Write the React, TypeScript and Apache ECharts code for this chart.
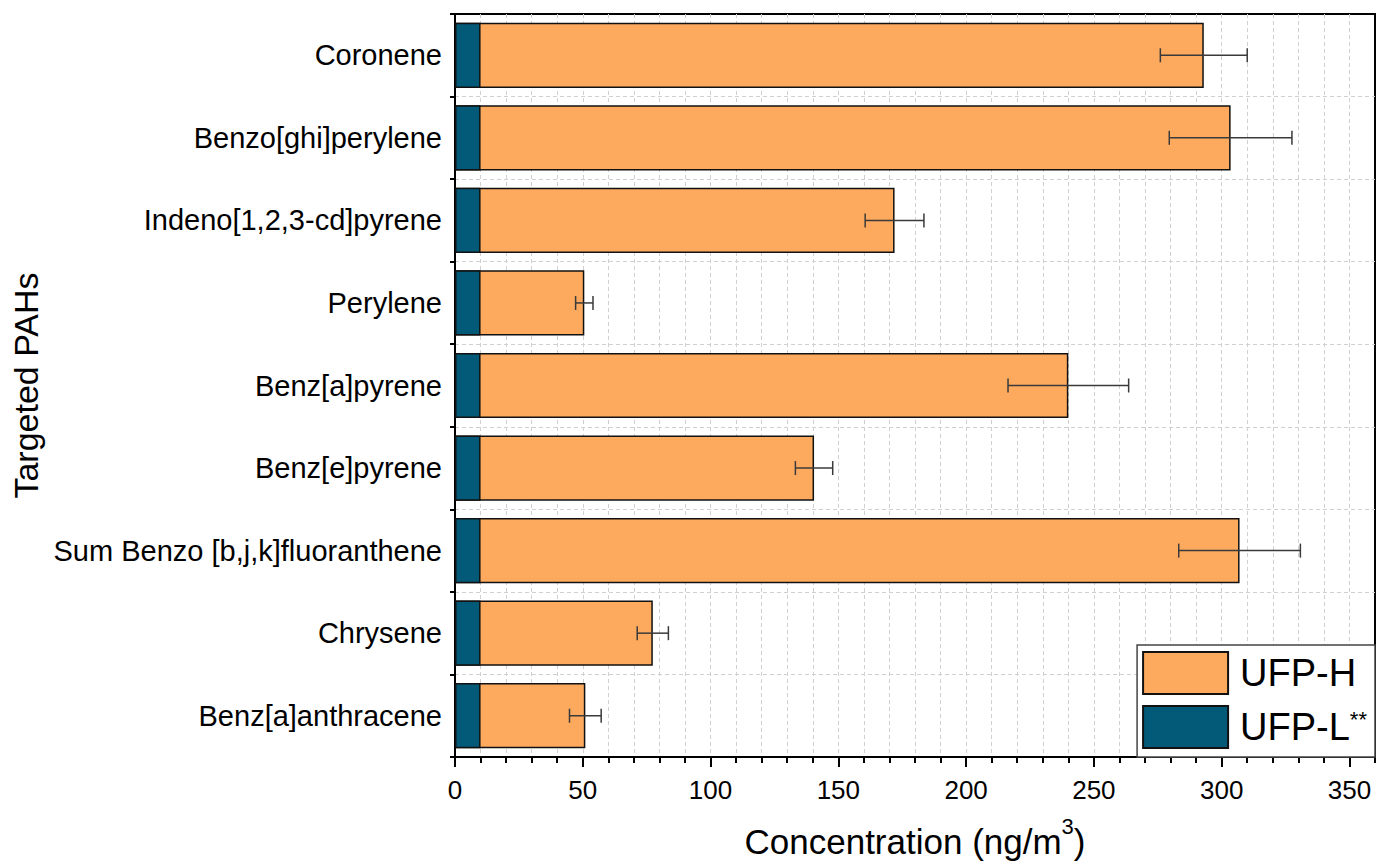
import React, { useEffect, useRef } from "react";
import * as echarts from "echarts";

// PAH species, listed top to bottom
const categories = [
  "Coronene",
  "Benzo[ghi]perylene",
  "Indeno[1,2,3-cd]pyrene",
  "Perylene",
  "Benz[a]pyrene",
  "Benz[e]pyrene",
  "Sum Benzo [b,j,k]fluoranthene",
  "Chrysene",
  "Benz[a]anthracene",
];

// Concentrations in ng/m3
const ufpH = [293, 303.5, 172, 50.6, 240, 140.5, 307, 77.4, 51];
const ufpHErr = [17, 24, 11.5, 3.4, 23.6, 7.3, 23.8, 6.1, 6.2];
const ufpL = [10, 10, 10, 10, 10, 10, 10, 10, 10];

const majorTicks = [0, 50, 100, 150, 200, 250, 300, 350];

const FONT = '"Liberation Sans", Arial, sans-serif';
const ORANGE = "#FDAA5E";
const TEAL = "#025A78";

export default function App() {
  const ref = useRef<HTMLDivElement>(null);

  useEffect(() => {
    document.body.style.margin = "0";
    const chart = echarts.init(ref.current!, null, { renderer: "svg" });

    const errData = categories.map((_, i) => [i, ufpH[i] - ufpHErr[i], ufpH[i] + ufpHErr[i]]);

    chart.setOption({
      animation: false,
      backgroundColor: "#fff",
      textStyle: { fontFamily: FONT },
      grid: {
        left: 455,
        right: 2,
        top: 14,
        bottom: 105,
        outerBoundsMode: "none",
        containLabel: false,
        show: true,
        borderColor: "#000",
        borderWidth: 2,
        backgroundColor: "transparent",
      },
      legend: {
        orient: "vertical",
        right: 2,
        bottom: 105,
        data: ["UFP-H", "UFP-L"],
        itemWidth: 85,
        itemHeight: 42,
        itemGap: 10,
        padding: [6, 8, 8, 5],
        borderColor: "#444",
        borderWidth: 1.5,
        borderRadius: 0,
        backgroundColor: "#fff",
        icon: "rect",
        formatter: (name: string) => (name === "UFP-L" ? "UFP-L{sup|**}" : name),
        textStyle: {
          fontFamily: FONT,
          fontSize: 38,
          color: "#000",
          padding: [0, 0, 0, 7],
          rich: {
            sup: { fontFamily: FONT, fontSize: 22, color: "#000", verticalAlign: "top" },
          },
        },
      },
      xAxis: [
        {
          type: "value",
          position: "bottom",
          min: 0,
          max: 360,
          interval: 10,
          name: "Concentration (ng/m{sup|3})",
          nameLocation: "middle",
          nameGap: 58,
          nameTextStyle: {
            fontFamily: FONT,
            fontSize: 35,
            lineHeight: 52,
            color: "#000",
            rich: {
              sup: {
                fontFamily: FONT,
                fontSize: 22,
                lineHeight: 22,
                color: "#000",
                verticalAlign: "top",
              },
            },
          },
          axisLine: { show: true, lineStyle: { color: "#000", width: 2 } },
          axisTick: { show: true, length: 6, lineStyle: { color: "#000", width: 2 } },
          axisLabel: {
            show: true,
            margin: 20,
            fontFamily: FONT,
            fontSize: 26,
            color: "#000",
            formatter: (v: number) => (v % 50 === 0 && v <= 350 ? String(v) : ""),
          },
          splitLine: {
            show: true,
            showMinLine: false,
            showMaxLine: false,
            lineStyle: { color: "#d0d0d0", width: 1, type: [4, 3] },
          },
        },
        {
          // longer ticks every 50 units, laid over the bottom axis line
          type: "value",
          position: "top",
          offset: -743,
          min: 0,
          max: 360,
          interval: 50,
          axisLine: { show: false },
          axisLabel: { show: false },
          splitLine: { show: false },
          axisTick: {
            show: true,
            inside: true,
            length: 10,
            customValues: majorTicks,
            lineStyle: { color: "#000", width: 2 },
          },
        },
      ],
      yAxis: [
        {
          type: "category",
          data: categories,
          inverse: true,
          position: "left",
          name: "Targeted PAHs",
          nameLocation: "middle",
          nameGap: 412,
          nameTextStyle: { fontFamily: FONT, fontSize: 34, color: "#000" },
          axisLine: { show: true, lineStyle: { color: "#000", width: 2 } },
          axisTick: { show: true, length: 5, lineStyle: { color: "#000", width: 2 } },
          axisLabel: { margin: 13, fontFamily: FONT, fontSize: 29, color: "#000" },
          splitLine: {
            show: true,
            showMinLine: false,
            showMaxLine: false,
            lineStyle: { color: "#d0d0d0", width: 1, type: [4, 3] },
          },
        },
      ],
      series: [
        {
          name: "UFP-H",
          type: "bar",
          xAxisIndex: 0,
          data: ufpH,
          barCategoryGap: "21%",
          barGap: "-100%",
          itemStyle: { color: ORANGE, borderColor: "#111", borderWidth: 1.5 },
          z: 2,
        },
        {
          name: "UFP-L",
          type: "bar",
          xAxisIndex: 0,
          data: ufpL,
          barCategoryGap: "21%",
          barGap: "-100%",
          itemStyle: { color: TEAL, borderColor: "#111", borderWidth: 1.5 },
          z: 3,
        },
        {
          name: "error",
          type: "custom",
          xAxisIndex: 0,
          data: errData,
          encode: { y: 0, x: [1, 2] },
          z: 4,
          renderItem: (_params: any, api: any) => {
            const c = api.value(0);
            const lo = api.coord([api.value(1), c]);
            const hi = api.coord([api.value(2), c]);
            const h = 7;
            const style = { stroke: "#3a3a3a", lineWidth: 1.5 };
            return {
              type: "group",
              children: [
                { type: "line", shape: { x1: lo[0], y1: lo[1], x2: hi[0], y2: hi[1] }, style },
                { type: "line", shape: { x1: lo[0], y1: lo[1] - h, x2: lo[0], y2: lo[1] + h }, style },
                { type: "line", shape: { x1: hi[0], y1: hi[1] - h, x2: hi[0], y2: hi[1] + h }, style },
              ],
            };
          },
        },
      ],
    });

    return () => chart.dispose();
  }, []);

  return <div ref={ref} style={{ width: 1377, height: 862 }} />;
}
